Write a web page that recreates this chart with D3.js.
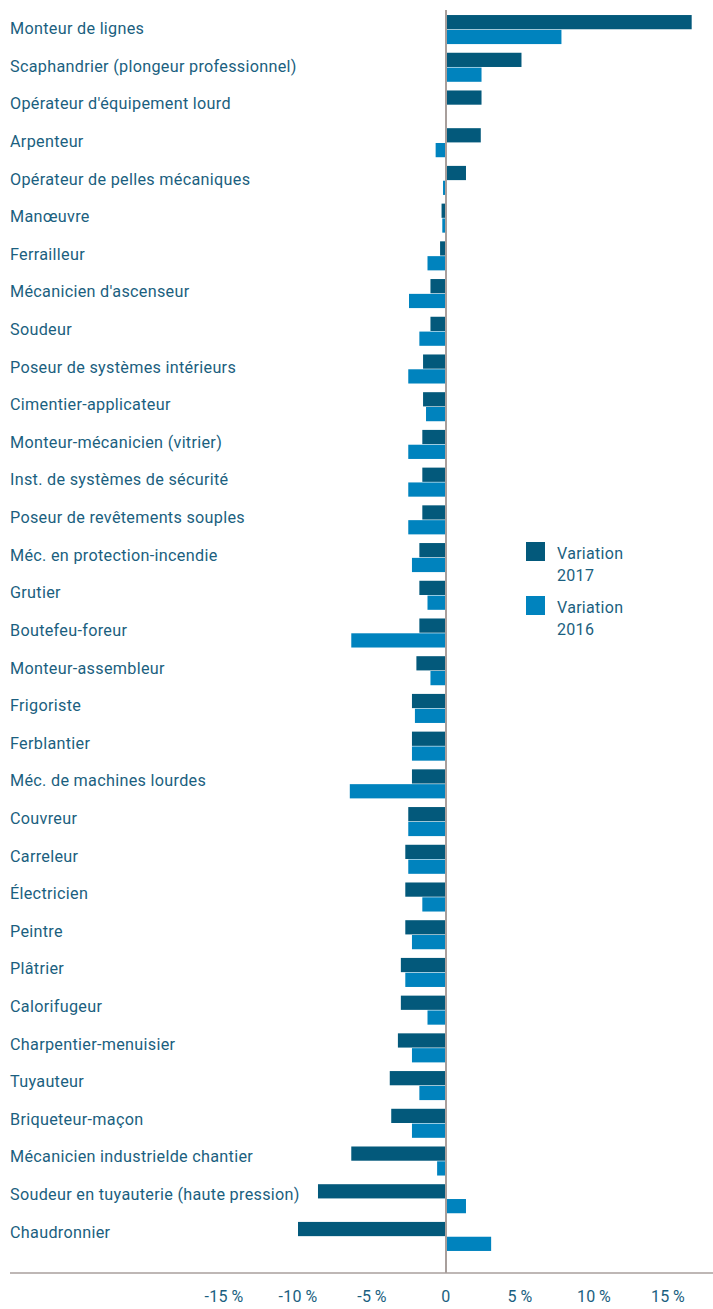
<!DOCTYPE html>
<meta charset="utf-8">
<style>
    body { margin: 0; background: #fff; }
    text { font-family: Roboto, sans-serif; fill: #1b5f80; }
    .label { font-size: 16.2px; letter-spacing: 0.3px; }
    .tick-label { font-size: 16px; letter-spacing: 0.3px; }
    .legend text { font-size: 16px; letter-spacing: 0.3px; }
</style>
<svg width="713" height="1309"></svg>
<script src="https://d3js.org/d3.v7.min.js"></script>
<script>
    var trades = ["Monteur de lignes", "Scaphandrier (plongeur professionnel)", "Opérateur d'équipement lourd",
        "Arpenteur", "Opérateur de pelles mécaniques", "Manœuvre", "Ferrailleur", "Mécanicien d'ascenseur",
        "Soudeur", "Poseur de systèmes intérieurs", "Cimentier-applicateur", "Monteur-mécanicien (vitrier)",
        "Inst. de systèmes de sécurité", "Poseur de revêtements souples", "Méc. en protection-incendie",
        "Grutier", "Boutefeu-foreur", "Monteur-assembleur", "Frigoriste", "Ferblantier",
        "Méc. de machines lourdes", "Couvreur", "Carreleur", "Électricien", "Peintre", "Plâtrier",
        "Calorifugeur", "Charpentier-menuisier", "Tuyauteur", "Briqueteur-maçon",
        "Mécanicien industrielde chantier", "Soudeur en tuyauterie (haute pression)", "Chaudronnier"];

    var var2017 = [16.6, 5.1, 2.4, 2.35, 1.35, -0.3, -0.4, -1.05, -1.05, -1.55, -1.55, -1.6,
        -1.6, -1.6, -1.8, -1.8, -1.8, -2.0, -2.3, -2.3, -2.3, -2.55, -2.75, -2.75, -2.75, -3.05,
        -3.05, -3.25, -3.8, -3.7, -6.4, -8.65, -10.0];

    var var2016 = [7.8, 2.4, 0, -0.7, -0.2, -0.25, -1.25, -2.5, -1.8, -2.55, -1.35, -2.55,
        -2.55, -2.55, -2.3, -1.25, -6.4, -1.05, -2.1, -2.3, -6.5, -2.55, -2.55, -1.6, -2.3, -2.75,
        -1.25, -2.3, -1.8, -2.3, -0.6, 1.35, 3.05];

    var seriesKeys = ["2017", "2016"];
    var tickValues = [-15, -10, -5, 0, 5, 10, 15];

    var colors = { "2017": "#03597b", "2016": "#0083be" };

    var svg = d3.select("svg");

    var x = d3.scaleLinear().domain([-15, 15]).range([224, 668]);
    var y = d3.scaleBand().domain(trades).range([10.7, 1255.3])
        .paddingInner(0.23).paddingOuter(0.115);
    var ySub = d3.scaleBand().domain(seriesKeys).range([0, y.bandwidth()]).paddingInner(0.04);
    // the labels sit on a slightly tighter pitch than the bars
    var yLabel = d3.scalePoint().domain(trades).range([28.5, 1232]);

    var rows = trades.map(function (t, i) {
        return { trade: t, values: [{ key: "2017", v: var2017[i] }, { key: "2016", v: var2016[i] }] };
    });

    // bars
    var row = svg.selectAll(".row").data(rows).enter().append("g")
        .attr("class", "row")
        .attr("transform", function (d) { return "translate(0," + y(d.trade) + ")"; });

    row.selectAll("rect").data(function (d) { return d.values; })
        .enter().append("rect")
        .filter(function (d) { return d.v !== 0; })
        .attr("x", function (d) { return x(Math.min(0, d.v)); })
        .attr("width", function (d) { return Math.abs(x(d.v) - x(0)); })
        .attr("y", function (d) { return ySub(d.key); })
        .attr("height", ySub.bandwidth())
        .style("fill", function (d) { return colors[d.key]; });

    // labels
    svg.selectAll(".label").data(trades).enter().append("text")
        .attr("class", "label")
        .attr("x", 10)
        .attr("y", function (d) { return yLabel(d); })
        .attr("dy", "0.35em")
        .text(function (d) { return d; });

    // zero line + axis line
    svg.append("line")
        .attr("x1", x(0)).attr("x2", x(0))
        .attr("y1", 10).attr("y2", 1273)
        .style("stroke", "#a89f9c").style("stroke-width", 2);

    svg.append("line")
        .attr("x1", 10).attr("x2", 713)
        .attr("y1", 1273).attr("y2", 1273)
        .style("stroke", "#a89f9c").style("stroke-width", 1.5);

    svg.selectAll(".tick-label").data(tickValues).enter().append("text")
        .attr("class", "tick-label")
        .attr("x", function (d) { return x(d); })
        .attr("y", 1296)
        .attr("dy", "0.35em")
        .style("text-anchor", "middle")
        .text(function (d) { return d === 0 ? "0" : d + "\u2009%"; });

    // legend
    var legend = svg.append("g").attr("class", "legend")
        .selectAll("g").data(seriesKeys).enter().append("g")
        .attr("transform", function (d, i) { return "translate(526," + (542 + i * 54) + ")"; });

    legend.append("rect")
        .attr("width", 19).attr("height", 19)
        .style("fill", function (d) { return colors[d]; });

    legend.append("text")
        .attr("x", 31)
        .attr("y", 11)
        .attr("dy", "0.35em")
        .text("Variation");

    legend.append("text")
        .attr("x", 31)
        .attr("y", 33)
        .attr("dy", "0.35em")
        .text(function (d) { return d; });
</script>
